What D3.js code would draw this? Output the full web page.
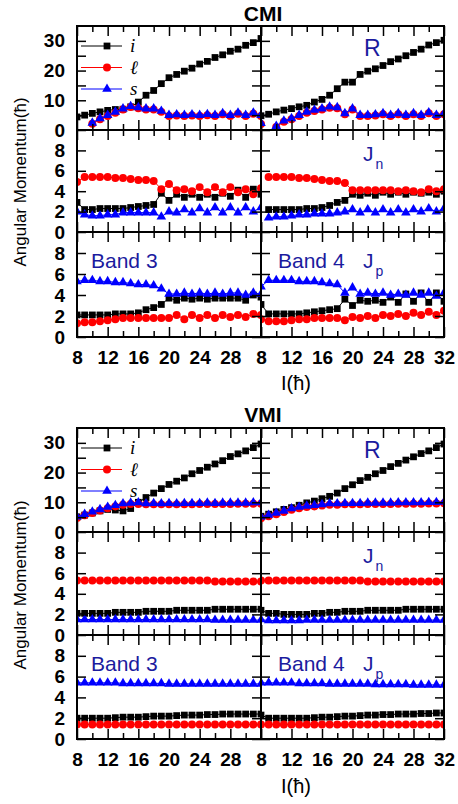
<!DOCTYPE html>
<html>
<head>
<meta charset="utf-8">
<script src="https://cdn.jsdelivr.net/npm/d3@7"></script>
<style>
  body { margin: 0; background: #fff; }
</style>
</head>
<body>
<div id="chart"></div>
<script>
// Spin values I(hbar), shared by every panel
const spins = [8, 9, 10, 11, 12, 13, 14, 15, 16, 17, 18, 19, 20, 21, 22, 23, 24, 25, 26, 27, 28, 29, 30, 31, 32];

// ---- CMI, Band 3 (left column)
const cmiB3_R_i = [4.4, 5.0, 5.6, 6.1, 6.6, 6.9, 7.0, 7.8, 9.4, 11.7, 13.3, 15.6, 17.6, 18.7, 19.8, 20.8, 22.2, 23.1, 24.4, 25.3, 26.5, 27.2, 28.5, 29.4, 30.8];
const cmiB3_R_l = [null, null, 2.1, 3.6, 4.7, 5.8, 6.9, 7.7, 7.3, 6.9, 6.9, 6.1, 4.7, 4.9, 4.7, 4.9, 4.7, 5.0, 4.7, 5.3, 4.7, 5.5, 4.7, 5.5, 4.7];
const cmiB3_R_s = [null, null, 2.4, 3.9, 5.0, 6.1, 7.2, 8.0, 7.6, 7.2, 7.2, 6.4, 5.0, 5.2, 5.0, 5.2, 5.0, 5.3, 5.0, 5.6, 5.0, 5.8, 5.0, 5.8, 5.0];
const cmiB3_Jn_i = [2.9, 2.2, 2.2, 2.3, 2.3, 2.3, 2.3, 2.4, 2.5, 2.6, 2.7, 3.8, 3.1, 3.7, 3.4, 3.7, 3.4, 3.7, 3.4, 3.8, 3.5, 4.1, 3.4, 4.2, 3.7];
const cmiB3_Jn_l = [4.9, 5.4, 5.4, 5.4, 5.4, 5.3, 5.3, 5.2, 5.1, 5.1, 5.0, 4.2, 4.7, 4.1, 4.2, 4.0, 4.4, 3.9, 4.4, 3.9, 4.4, 3.9, 4.2, 3.7, 4.3];
const cmiB3_Jn_s = [2.0, 1.7, 1.6, 1.6, 1.7, 1.7, 1.9, 1.9, 1.9, 1.9, 1.9, 1.5, 2.0, 1.9, 2.2, 1.9, 2.3, 1.9, 2.4, 1.9, 2.4, 1.9, 2.4, 2.0, 2.4];
const cmiB3_Jp_i = [2.1, 2.1, 2.1, 2.1, 2.1, 2.2, 2.2, 2.2, 2.3, 2.6, 2.8, 3.1, 3.7, 3.5, 3.7, 3.6, 3.7, 3.6, 3.7, 3.7, 3.7, 3.7, 3.5, 4.0, 3.8];
const cmiB3_Jp_l = [1.3, 1.4, 1.4, 1.5, 1.6, 1.7, 1.8, 1.8, 1.8, 1.8, 1.8, 1.8, 1.8, 2.1, 1.7, 2.1, 1.8, 2.1, 1.8, 2.1, 1.9, 2.1, 1.9, 2.2, 2.1];
const cmiB3_Jp_s = [5.3, 5.4, 5.4, 5.3, 5.3, 5.2, 5.2, 5.1, 5.0, 5.0, 4.9, 4.6, 4.1, 4.1, 4.2, 4.1, 4.2, 4.1, 4.2, 4.1, 4.2, 4.2, 4.0, 4.2, 4.1];

// ---- CMI, Band 4 (right column)
const cmiB4_R_i = [4.8, 5.3, 6.1, 6.7, 7.2, 7.8, 8.3, 9.4, 10.3, 11.7, 13.9, 16.1, 16.1, 18.7, 19.8, 20.6, 21.7, 23.0, 23.9, 25.0, 26.1, 27.2, 28.6, 29.4, 30.2];
const cmiB4_R_l = [2.0, null, 1.0, 2.8, 3.6, 4.7, 5.8, 6.4, 6.9, 7.5, 7.3, 5.3, 6.9, 4.7, 4.7, 4.9, 5.3, 4.7, 5.3, 4.7, 5.3, 4.7, 5.6, 4.7, 5.3];
const cmiB4_R_s = [2.3, null, 1.3, 3.1, 3.9, 5.0, 6.1, 6.7, 7.2, 7.8, 7.6, 5.6, 7.2, 5.0, 5.0, 5.2, 5.6, 5.0, 5.6, 5.0, 5.6, 5.0, 5.9, 5.0, 5.6];
const cmiB4_Jn_i = [null, 2.2, 2.2, 2.2, 2.2, 2.2, 2.3, 2.3, 2.4, 2.6, 2.9, 3.1, 3.7, 3.6, 3.8, 3.6, 3.9, 3.7, 3.9, 3.7, 3.9, 3.8, 3.9, 3.7, 4.0];
const cmiB4_Jn_l = [null, 5.4, 5.4, 5.4, 5.4, 5.3, 5.3, 5.2, 5.1, 5.0, 5.0, 4.8, 4.1, 4.1, 4.1, 4.1, 4.1, 4.1, 4.0, 4.1, 4.0, 3.9, 4.2, 4.0, 4.2];
const cmiB4_Jn_s = [null, 1.4, 1.5, 1.5, 1.6, 1.7, 1.7, 1.8, 1.8, 1.8, 1.9, 2.0, 2.2, 1.9, 2.2, 1.9, 2.2, 1.9, 2.2, 1.9, 2.2, 2.0, 2.3, 2.0, 2.3];
const cmiB4_Jp_i = [3.1, 2.2, 2.2, 2.2, 2.2, 2.2, 2.3, 2.4, 2.5, 2.6, 2.7, 3.6, 3.0, 3.5, 3.4, 3.5, 3.3, 3.8, 3.3, 4.1, 3.4, 4.2, 3.3, 4.2, 3.4];
const cmiB4_Jp_l = [1.7, 1.5, 1.5, 1.5, 1.6, 1.7, 1.7, 1.8, 1.8, 1.8, 1.8, 1.6, 1.9, 1.8, 2.0, 1.8, 2.1, 2.0, 2.2, 2.0, 2.3, 2.1, 2.4, 2.1, 2.5];
const cmiB4_Jp_s = [4.8, 5.4, 5.4, 5.4, 5.4, 5.3, 5.3, 5.3, 5.2, 5.1, 5.0, 4.2, 4.7, 4.1, 4.2, 4.1, 4.2, 4.0, 4.1, 4.0, 4.2, 4.0, 4.2, 3.9, 4.2];

// ---- VMI, Band 3 (left column)
const vmiB3_R_i = [5.1, 5.7, 6.4, 7.1, 7.6, 7.4, 7.1, 7.9, 10.0, 11.6, 13.1, 14.6, 16.0, 17.1, 18.2, 19.6, 20.7, 21.8, 22.9, 24.0, 25.4, 26.3, 27.3, 28.4, 29.6];
const vmiB3_R_l = [4.7, 5.6, 6.4, 7.2, 8.0, 8.6, 9.2, 9.4, 9.4, 9.3, 9.3, 9.3, 9.3, 9.3, 9.3, 9.3, 9.4, 9.4, 9.4, 9.4, 9.4, 9.5, 9.5, 9.5, 9.5];
const vmiB3_R_s = [5.1, 6.0, 6.8, 7.6, 8.4, 9.0, 9.6, 9.8, 9.9, 9.6, 9.7, 9.6, 9.7, 9.6, 9.7, 9.7, 9.7, 9.8, 9.7, 9.8, 9.8, 9.8, 9.8, 9.9, 9.9];
const vmiB3_Jn_i = [2.1, 2.1, 2.1, 2.1, 2.1, 2.2, 2.2, 2.2, 2.2, 2.3, 2.3, 2.3, 2.3, 2.4, 2.4, 2.4, 2.4, 2.4, 2.5, 2.5, 2.5, 2.5, 2.5, 2.5, 2.5];
const vmiB3_Jn_l = [5.3, 5.3, 5.3, 5.3, 5.3, 5.3, 5.3, 5.3, 5.3, 5.3, 5.3, 5.3, 5.3, 5.3, 5.3, 5.3, 5.3, 5.3, 5.2, 5.2, 5.2, 5.2, 5.2, 5.2, 5.2];
const vmiB3_Jn_s = [1.5, 1.5, 1.5, 1.5, 1.5, 1.5, 1.5, 1.5, 1.5, 1.5, 1.5, 1.5, 1.5, 1.5, 1.5, 1.5, 1.5, 1.5, 1.45, 1.45, 1.45, 1.45, 1.45, 1.45, 1.45];
const vmiB3_Jp_i = [2.0, 2.0, 2.0, 2.0, 2.0, 2.05, 2.1, 2.1, 2.1, 2.15, 2.2, 2.2, 2.2, 2.25, 2.3, 2.3, 2.3, 2.35, 2.35, 2.4, 2.4, 2.4, 2.4, 2.4, 2.4];
const vmiB3_Jp_l = [1.4, 1.4, 1.4, 1.4, 1.4, 1.4, 1.4, 1.4, 1.4, 1.4, 1.4, 1.4, 1.4, 1.4, 1.4, 1.4, 1.4, 1.4, 1.4, 1.4, 1.4, 1.4, 1.4, 1.4, 1.4];
const vmiB3_Jp_s = [5.4, 5.4, 5.4, 5.4, 5.4, 5.4, 5.35, 5.35, 5.35, 5.35, 5.35, 5.35, 5.3, 5.3, 5.3, 5.3, 5.3, 5.3, 5.3, 5.3, 5.3, 5.3, 5.3, 5.3, 5.3];

// ---- VMI, Band 4 (right column)
const vmiB4_R_i = [5.3, 6.0, 6.8, 7.6, 8.2, 9.0, 9.8, 10.4, 11.2, 12.0, 13.1, 14.6, 15.9, 17.3, 18.4, 19.6, 20.7, 22.0, 23.1, 24.2, 25.3, 26.4, 27.3, 28.4, 29.6];
const vmiB4_R_l = [4.6, 5.3, 6.0, 6.7, 7.5, 8.0, 8.4, 8.6, 8.9, 9.2, 9.2, 9.3, 9.3, 9.3, 9.4, 9.4, 9.4, 9.4, 9.5, 9.5, 9.5, 9.5, 9.6, 9.6, 9.7];
const vmiB4_R_s = [5.1, 5.7, 6.4, 7.1, 7.9, 8.4, 8.8, 9.0, 9.3, 9.6, 9.6, 9.7, 9.7, 9.7, 9.8, 9.8, 9.8, 9.8, 9.9, 9.9, 9.9, 9.9, 10.0, 10.0, 10.1];
const vmiB4_Jn_i = [2.4, 2.1, 2.1, 2.0, 2.0, 2.0, 2.0, 2.1, 2.1, 2.2, 2.2, 2.3, 2.3, 2.3, 2.4, 2.4, 2.4, 2.4, 2.4, 2.5, 2.5, 2.5, 2.5, 2.5, 2.5];
const vmiB4_Jn_l = [5.3, 5.3, 5.3, 5.3, 5.3, 5.3, 5.3, 5.3, 5.3, 5.3, 5.3, 5.3, 5.3, 5.3, 5.2, 5.2, 5.2, 5.2, 5.2, 5.2, 5.2, 5.2, 5.2, 5.2, 5.2];
const vmiB4_Jn_s = [1.5, 1.4, 1.4, 1.4, 1.4, 1.4, 1.45, 1.45, 1.45, 1.45, 1.45, 1.45, 1.45, 1.45, 1.45, 1.45, 1.45, 1.45, 1.45, 1.45, 1.45, 1.45, 1.45, 1.45, 1.45];
const vmiB4_Jp_i = [2.3, 2.0, 2.0, 2.0, 2.0, 2.0, 2.0, 2.05, 2.1, 2.1, 2.15, 2.2, 2.2, 2.25, 2.3, 2.3, 2.35, 2.35, 2.4, 2.4, 2.4, 2.45, 2.45, 2.5, 2.5];
const vmiB4_Jp_l = [1.4, 1.4, 1.4, 1.4, 1.4, 1.4, 1.4, 1.4, 1.4, 1.4, 1.4, 1.4, 1.4, 1.4, 1.4, 1.4, 1.4, 1.4, 1.4, 1.4, 1.4, 1.4, 1.4, 1.4, 1.4];
const vmiB4_Jp_s = [5.4, 5.4, 5.4, 5.4, 5.4, 5.35, 5.35, 5.35, 5.35, 5.3, 5.3, 5.3, 5.3, 5.3, 5.3, 5.25, 5.25, 5.25, 5.25, 5.25, 5.2, 5.2, 5.2, 5.2, 5.2];

// Tick values
const xMajor = [8, 12, 16, 20, 24, 28, 32];
const xMinor = [10, 14, 18, 22, 26, 30];
const rTicks = [0, 10, 20, 30];
const rMinor = [5, 15, 25];
const jTicks = [0, 2, 4, 6, 8];

// Table of panels built from the arrays above
const bandData = {
  CMI: [
    { R: [cmiB3_R_i, cmiB3_R_l, cmiB3_R_s], Jn: [cmiB3_Jn_i, cmiB3_Jn_l, cmiB3_Jn_s], Jp: [cmiB3_Jp_i, cmiB3_Jp_l, cmiB3_Jp_s] },
    { R: [cmiB4_R_i, cmiB4_R_l, cmiB4_R_s], Jn: [cmiB4_Jn_i, cmiB4_Jn_l, cmiB4_Jn_s], Jp: [cmiB4_Jp_i, cmiB4_Jp_l, cmiB4_Jp_s] },
  ],
  VMI: [
    { R: [vmiB3_R_i, vmiB3_R_l, vmiB3_R_s], Jn: [vmiB3_Jn_i, vmiB3_Jn_l, vmiB3_Jn_s], Jp: [vmiB3_Jp_i, vmiB3_Jp_l, vmiB3_Jp_s] },
    { R: [vmiB4_R_i, vmiB4_R_l, vmiB4_R_s], Jn: [vmiB4_Jn_i, vmiB4_Jn_l, vmiB4_Jn_s], Jp: [vmiB4_Jp_i, vmiB4_Jp_l, vmiB4_Jp_s] },
  ],
};

const series = [
  { label: "i", color: "#000000", symbol: d3.symbolSquare, size: 46 },
  { label: "ℓ", color: "#ff0000", symbol: d3.symbolCircle, size: 50 },
  { label: "s", color: "#0000ff", symbol: d3.symbolTriangle, size: 40 },
];

const rows = [
  { key: "R", domain: [0, 35], ticks: rTicks, minor: rMinor },
  { key: "Jn", domain: [0, 10], ticks: jTicks, minor: [] },
  { key: "Jp", domain: [0, 10], ticks: jTicks, minor: [] },
];

// Layout
const width = 458;
const height = 804;
const cols = [[77, 261], [261, 444]];
const blocks = [
  { name: "CMI", edges: [26, 130, 232, 337], titleY: 21, xLabelY: 390, yLabelY: 182 },
  { name: "VMI", edges: [428, 532, 635, 739], titleY: 422, xLabelY: 793, yLabelY: 585 },
];

const sans = "'Liberation Sans', Arial, Helvetica, sans-serif";
const labelBlue = "#1b1b9e";

const svg = d3
  .select("#chart")
  .append("svg")
  .attr("width", width)
  .attr("height", height)
  .style("font-family", sans);

const styleAxis = (g) =>
  g
    .call((g) => g.select(".domain").remove())
    .call((g) => g.selectAll(".tick line").attr("stroke", "#000").attr("stroke-width", 1.5))
    .style("font-family", sans)
    .style("font-size", "19px")
    .style("font-weight", "bold")
    .call((g) => g.selectAll("text").attr("fill", "#000"));

blocks.forEach((block) => {
  rows.forEach((row, r) => {
    const y0 = block.edges[r];
    const y1 = block.edges[r + 1];
    const y = d3.scaleLinear().domain(row.domain).range([y1, y0]);
    const isLast = r === rows.length - 1;

    cols.forEach((col, c) => {
      const x = d3.scaleLinear().domain([8, 32]).range(col);
      const values = bandData[block.name][c][row.key];
      const clipId = `clip-${block.name}-${row.key}-${c}`;

      svg
        .append("clipPath")
        .attr("id", clipId)
        .append("rect")
        .attr("x", col[0])
        .attr("y", y0)
        .attr("width", col[1] - col[0])
        .attr("height", y1 - y0);

      const plot = svg.append("g").attr("clip-path", `url(#${clipId})`);

      series.forEach((s, k) => {
        const pts = spins.map((I, j) => ({ I, v: values[k][j] }));

        const line = d3
          .line()
          .defined((d) => d.v != null)
          .x((d) => x(d.I))
          .y((d) => y(d.v));

        plot
          .append("path")
          .datum(pts)
          .attr("fill", "none")
          .attr("stroke", s.color)
          .attr("stroke-width", 1)
          .attr("d", line);

        plot
          .append("g")
          .selectAll("path")
          .data(pts.filter((d) => d.v != null))
          .join("path")
          .attr("transform", (d) => `translate(${x(d.I)},${y(d.v)})`)
          .attr("d", d3.symbol().type(s.symbol).size(s.size))
          .attr("fill", s.color);
      });

      // x ticks, top and bottom of every row, pointing inwards
      svg.append("g")
        .attr("transform", `translate(0,${y1})`)
        .call(
          d3.axisBottom(x)
            .tickValues(xMajor)
            .tickSize(-10)
            .tickPadding(14)
            .tickFormat((d) => (!isLast || (c === 0 && d === 32) ? "" : d))
        )
        .call(styleAxis);
      svg.append("g")
        .attr("transform", `translate(0,${y1})`)
        .call(d3.axisBottom(x).tickValues(xMinor).tickSize(-6).tickFormat(""))
        .call(styleAxis);
      svg.append("g")
        .attr("transform", `translate(0,${y0})`)
        .call(d3.axisTop(x).tickValues(xMajor).tickSize(-10).tickFormat(""))
        .call(styleAxis);
      svg.append("g")
        .attr("transform", `translate(0,${y0})`)
        .call(d3.axisTop(x).tickValues(xMinor).tickSize(-6).tickFormat(""))
        .call(styleAxis);

      // y ticks on both sides of the panel
      const allY = row.ticks.concat(row.minor);
      svg.append("g")
        .attr("transform", `translate(${col[0]},0)`)
        .call(
          d3.axisLeft(y)
            .tickValues(c === 0 ? row.ticks : allY)
            .tickSize(-9)
            .tickPadding(12)
            .tickFormat((d) => (c === 0 ? d : ""))
        )
        .call(styleAxis);
      if (c === 0 && row.minor.length) {
        svg.append("g")
          .attr("transform", `translate(${col[0]},0)`)
          .call(d3.axisLeft(y).tickValues(row.minor).tickSize(-9).tickFormat(""))
          .call(styleAxis);
      }
      svg.append("g")
        .attr("transform", `translate(${col[1]},0)`)
        .call(d3.axisRight(y).tickValues(allY).tickSize(-9).tickFormat(""))
        .call(styleAxis);

      // panel frame
      svg
        .append("rect")
        .attr("x", col[0])
        .attr("y", y0)
        .attr("width", col[1] - col[0])
        .attr("height", y1 - y0)
        .attr("fill", "none")
        .attr("stroke", "#000")
        .attr("stroke-width", 2);
    });

    // panel labels
    if (row.key === "R") {
      svg.append("text")
        .attr("x", 364)
        .attr("y", y0 + 30)
        .attr("fill", labelBlue)
        .style("font-size", "23px")
        .text("R");
    } else {
      const sub = row.key === "Jn" ? "n" : "p";
      const base = row.key === "Jn" ? y0 + 31 : y0 + 36;
      const t = svg.append("text")
        .attr("x", 363)
        .attr("y", base)
        .attr("fill", labelBlue)
        .style("font-size", "21px");
      t.append("tspan").text("J");
      t.append("tspan").attr("dx", 2).attr("dy", 8).style("font-size", "14px").text(sub);
    }
    if (row.key === "Jp") {
      svg.append("text")
        .attr("x", 91)
        .attr("y", y0 + 36)
        .attr("fill", labelBlue)
        .style("font-size", "21px")
        .text("Band 3");
      svg.append("text")
        .attr("x", 278)
        .attr("y", y0 + 36)
        .attr("fill", labelBlue)
        .style("font-size", "21px")
        .text("Band 4");
    }
  });

  // legend in the top-left panel
  const top = block.edges[0];
  series.forEach((s, k) => {
    const ly = top + 20 + k * 21.5;
    svg.append("line")
      .attr("x1", 81)
      .attr("x2", 122)
      .attr("y1", ly)
      .attr("y2", ly)
      .attr("stroke", s.color)
      .attr("stroke-width", 1);
    svg.append("path")
      .attr("transform", `translate(107,${ly})`)
      .attr("d", d3.symbol().type(s.symbol).size(s.size))
      .attr("fill", s.color);
    svg.append("text")
      .attr("x", 130)
      .attr("y", ly + 6)
      .style("font-family", "'Liberation Serif', 'DejaVu Serif', serif")
      .style("font-style", "italic")
      .style("font-size", "19px")
      .text(s.label);
  });

  // block title
  svg.append("text")
    .attr("x", 263)
    .attr("y", block.titleY)
    .attr("text-anchor", "middle")
    .style("font-size", "21px")
    .style("font-weight", "bold")
    .text(block.name);

  // x axis title
  svg.append("text")
    .attr("x", 296)
    .attr("y", block.xLabelY)
    .attr("text-anchor", "middle")
    .style("font-size", "20px")
    .text("I(ħ)");

  // y axis title
  svg.append("text")
    .attr("transform", `translate(26,${block.yLabelY}) rotate(-90)`)
    .attr("text-anchor", "middle")
    .style("font-size", "17px")
    .text("Angular Momentum(ħ)");
});
</script>
</body>
</html>
